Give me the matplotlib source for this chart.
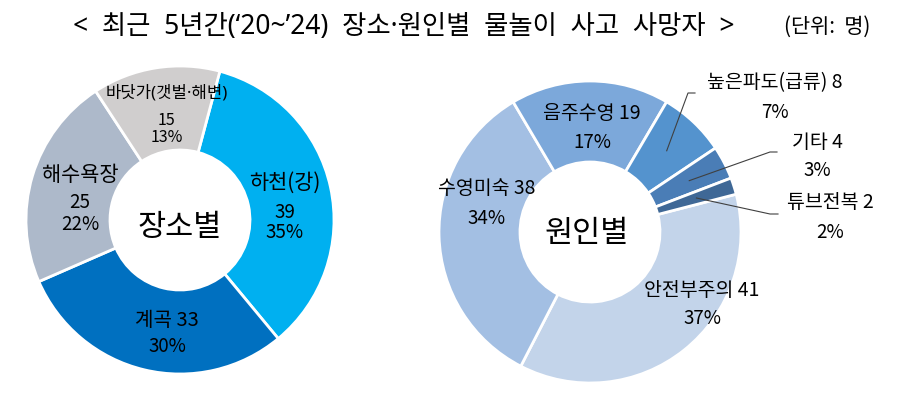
import matplotlib
import matplotlib.pyplot as plt
import numpy as np
matplotlib.use('Agg')

plt.rcParams['font.family'] = ['Noto Sans CJK KR', 'DejaVu Sans']
dot_family = ['Noto Sans', 'Noto Sans CJK KR']  # 좁은 가운뎃점

# 장소별 (place)
place_names = ['하천(강)', '계곡', '해수욕장', '바닷가(갯벌·해변)']
place_vals = [39, 33, 25, 15]
place_pcts = [35, 30, 22, 13]
place_colors = ['#00B0F0', '#0070C0', '#ADB9CA', '#D0CECE']

# 원인별 (cause)
cause_names = ['안전부주의', '수영미숙', '음주수영', '높은파도(급류)', '기타', '튜브전복']
cause_vals = [41, 38, 19, 8, 4, 2]
cause_pcts = [37, 34, 17, 7, 3, 2]
cause_colors = ['#C3D4EA', '#A3BFE3', '#7CA8DA', '#5493CE', '#4A7DB6', '#3F6896']

title = "<  최근  5년간(\u201820~\u201924)  장소·원인별  물놀이  사고  사망자  >"
unit = '(단위:  명)'

H = 394
fig = plt.figure(figsize=(9.12, 3.94), dpi=100)
ax = fig.add_axes([0, 0, 1, 1])

# 왼쪽 도넛
lc, lr = (180, H - 220), 154
ax.pie(place_vals, colors=place_colors, startangle=75, counterclock=False,
       center=lc, radius=lr,
       wedgeprops=dict(width=lr - 70, edgecolor='white', linewidth=2))

# 오른쪽 도넛
rc, rr = (590, H - 232), 151
wedges, _ = ax.pie(cause_vals, colors=cause_colors, startangle=14.5, counterclock=False,
                   center=rc, radius=rr,
                   wedgeprops=dict(width=rr - 70, edgecolor='white', linewidth=2))

ax.set_xlim(0, 912)
ax.set_ylim(0, H)
ax.set_aspect('equal')
ax.axis('off')

fs = 13.5
def txt(x, y, s, size=fs, **kw):
    ax.text(x, H - y, s, ha='center', va='center', fontsize=size, color='black', **kw)

# 왼쪽 라벨
txt(285, 183, place_names[0], size=15)
txt(285, 212, str(place_vals[0]))
txt(285, 233, f'{place_pcts[0]}%')
txt(167, 320, f'{place_names[1]} {place_vals[1]}', size=14.5)
txt(167, 347, f'{place_pcts[1]}%')
txt(80, 175, place_names[2], size=15)
txt(80, 203, str(place_vals[2]))
txt(80, 225, f'{place_pcts[2]}%')
txt(167, 93, place_names[3], size=12, family=dot_family)
txt(167, 120, str(place_vals[3]), size=11.5)
txt(167, 138, f'{place_pcts[3]}%', size=11.5)
txt(180, 227, '장소별', size=22)

# 오른쪽 라벨
txt(702, 290, f'{cause_names[0]} {cause_vals[0]}', size=14)
txt(702, 318, f'{cause_pcts[0]}%')
txt(487, 188, f'{cause_names[1]} {cause_vals[1]}', size=14)
txt(487, 218, f'{cause_pcts[1]}%')
txt(592, 113, f'{cause_names[2]} {cause_vals[2]}', size=14)
txt(592, 143, f'{cause_pcts[2]}%')
txt(775, 83, f'{cause_names[3]} {cause_vals[3]}', size=14)
txt(775, 112, f'{cause_pcts[3]}%')
txt(817, 142, f'{cause_names[4]} {cause_vals[4]}', size=14)
txt(817, 170, f'{cause_pcts[4]}%')
txt(830, 203, f'{cause_names[5]} {cause_vals[5]}', size=14)
txt(830, 232, f'{cause_pcts[5]}%')
txt(587, 233, '원인별', size=22)

# 지시선 (작은 조각)
elbows = {3: ((688, 93), (695, 93)), 4: ((770, 152), (777, 152)), 5: ((770, 214), (778, 214))}
for i, (e1, e2) in elbows.items():
    w = wedges[i]
    mid = np.deg2rad((w.theta1 + w.theta2) / 2)
    tx = rc[0] + 0.74 * rr * np.cos(mid)
    ty = rc[1] + 0.74 * rr * np.sin(mid)
    ax.plot([tx, e1[0], e2[0]], [ty, H - e1[1], H - e2[1]], color='#404040', lw=0.8)

# 제목
txt(404, 27, title, size=19, family=dot_family)
txt(827, 27, unit, size=15)

plt.savefig('out.png', dpi=100)
